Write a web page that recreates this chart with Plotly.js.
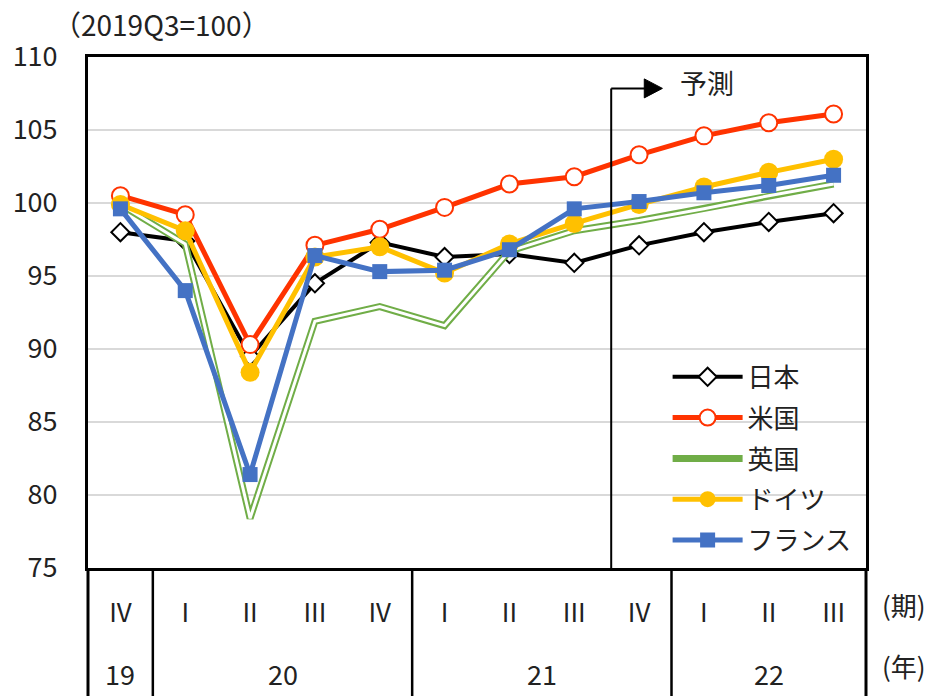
<!DOCTYPE html>
<html>
<head>
<meta charset="utf-8">
<script src="https://cdn.plot.ly/plotly-3.0.1.min.js"></script>
<style>html,body{margin:0;padding:0;background:#fff;}#chart{width:931px;height:696px;}</style>
</head>
<body>
<div id="chart"></div>
<script>
// ---- data ----
const periods = ['19Q4','20Q1','20Q2','20Q3','20Q4','21Q1','21Q2','21Q3','21Q4','22Q1','22Q2','22Q3'];
const quarterLabels = ['IV','I','II','III','IV','I','II','III','IV','I','II','III'];
const yearLabels = ['19','20','21','22'];
const yearCenters = [0, 2.5, 6.5, 10];
const japan   = [98.0, 97.4, 89.5, 94.5, 97.3, 96.3, 96.5, 95.9, 97.1, 98.0, 98.7, 99.3];
const usa     = [100.5, 99.2, 90.3, 97.1, 98.2, 99.7, 101.3, 101.8, 103.3, 104.6, 105.5, 106.1];
const uk      = [99.9, 97.2, 78.4, 91.9, 92.9, 91.6, 96.7, 98.1, 98.8, 99.6, 100.5, 101.3];
const germany = [99.9, 98.1, 88.4, 96.3, 97.0, 95.2, 97.2, 98.6, 99.9, 101.1, 102.1, 103.0];
const france  = [99.6, 94.0, 81.4, 96.4, 95.3, 95.4, 96.8, 99.6, 100.1, 100.7, 101.2, 101.9];

const FONT = '"Noto Sans CJK JP", "Noto Sans", sans-serif';
const TXT = '#222';

const traces = [
  {x: periods, y: japan, name: '日本', mode: 'lines+markers', legendgroup: 'jp',
   line: {color: '#000000', width: 4},
   marker: {symbol: 'diamond', size: 14, color: '#ffffff', line: {color: '#000000', width: 2}}},
  {x: periods, y: usa, name: '米国', mode: 'lines+markers', legendgroup: 'us',
   line: {color: '#FF3300', width: 5},
   marker: {symbol: 'circle', size: 17, color: '#ffffff', line: {color: '#FF3300', width: 2}}},
  {x: periods, y: uk, name: '英国', mode: 'lines', legendgroup: 'uk',
   line: {color: '#70AD47', width: 7}},
  {x: periods, y: uk, name: '英国', mode: 'lines', legendgroup: 'uk', showlegend: false,
   line: {color: '#ffffff', width: 3}},
  {x: periods, y: germany, name: 'ドイツ', mode: 'lines+markers', legendgroup: 'de',
   line: {color: '#FFC000', width: 5},
   marker: {symbol: 'circle', size: 19, color: '#FFC000'}},
  {x: periods, y: france, name: 'フランス', mode: 'lines+markers', legendgroup: 'fr',
   line: {color: '#4472C4', width: 5},
   marker: {symbol: 'square', size: 15, color: '#4472C4'}}
];

const shapes = [];
// dividers in the category table below the plot
[1/12, 5/12, 9/12].forEach(function(px){
  shapes.push({type: 'line', xref: 'paper', yref: 'paper', x0: px, x1: px, y0: 0, y1: -0.26,
               line: {color: '#000', width: 2.5}});
});
[0, 1].forEach(function(px){
  shapes.push({type: 'line', xref: 'paper', yref: 'paper', x0: px, x1: px, y0: 0, y1: -0.26,
               line: {color: '#000', width: 3}});
});
// forecast marker line and arrow
shapes.push({type: 'line', xref: 'x', yref: 'y', x0: 7.57, x1: 7.57, y0: 75, y1: 107.85,
             line: {color: '#000', width: 2}});
shapes.push({type: 'line', xref: 'x', yref: 'y', x0: 7.57, x1: 8.1, y0: 107.85, y1: 107.85,
             line: {color: '#000', width: 2}});
shapes.push({type: 'path', xref: 'x', yref: 'y', path: 'M 8.08 108.5 L 8.08 107.2 L 8.36 107.85 Z',
             fillcolor: '#000', line: {color: '#000', width: 1}});

const annotations = [
  {text: '（2019Q3=100）', xref: 'paper', yref: 'paper', x: -0.047, y: 1.065, xanchor: 'left', yanchor: 'middle',
   showarrow: false, font: {size: 28, color: TXT, family: FONT}},
  {text: '予測', xref: 'x', yref: 'y', x: 8.6, y: 108.25, xanchor: 'left', yanchor: 'middle',
   showarrow: false, font: {size: 27, color: TXT, family: FONT}},
  {text: '(期)', xref: 'paper', yref: 'paper', x: 1.049, y: -0.072, xanchor: 'center', yanchor: 'middle',
   showarrow: false, font: {size: 26, color: TXT, family: FONT}},
  {text: '(年)', xref: 'paper', yref: 'paper', x: 1.049, y: -0.19, xanchor: 'center', yanchor: 'middle',
   showarrow: false, font: {size: 26, color: TXT, family: FONT}}
];
yearLabels.forEach(function(t, i){
  annotations.push({text: t, xref: 'x', yref: 'paper', x: yearCenters[i], y: -0.207, xanchor: 'center', yanchor: 'middle',
                    showarrow: false, font: {size: 27, color: TXT, family: FONT}});
});

const layout = {
  width: 931, height: 696,
  margin: {l: 88, r: 65, t: 57, b: 128},
  paper_bgcolor: '#ffffff', plot_bgcolor: '#ffffff',
  font: {family: FONT, color: TXT},
  showlegend: true,
  legend: {x: 0.745, y: 0.42, xanchor: 'left', yanchor: 'top', bgcolor: 'rgba(0,0,0,0)',
           font: {size: 26, color: TXT, family: FONT}, traceorder: 'grouped', tracegroupgap: 4,
           itemwidth: 70},
  xaxis: {type: 'category', categoryarray: periods, range: [-0.5, 11.5],
          tickvals: periods, ticktext: quarterLabels, ticks: '', showgrid: false, zeroline: false,
          showline: true, linecolor: '#000', linewidth: 3, mirror: true,
          ticklabelstandoff: 20, tickfont: {size: 26, color: TXT, family: FONT}},
  yaxis: {range: [75, 110], tickvals: [75, 80, 85, 90, 95, 100, 105, 110], ticks: '',
          showgrid: true, gridcolor: '#d9d9d9', gridwidth: 2, zeroline: false,
          showline: true, linecolor: '#000', linewidth: 3, mirror: true,
          ticklabelstandoff: 22, tickfont: {size: 27, color: TXT, family: FONT}},
  shapes: shapes,
  annotations: annotations
};

Plotly.newPlot('chart', traces, layout, {staticPlot: true});
</script>
</body>
</html>
